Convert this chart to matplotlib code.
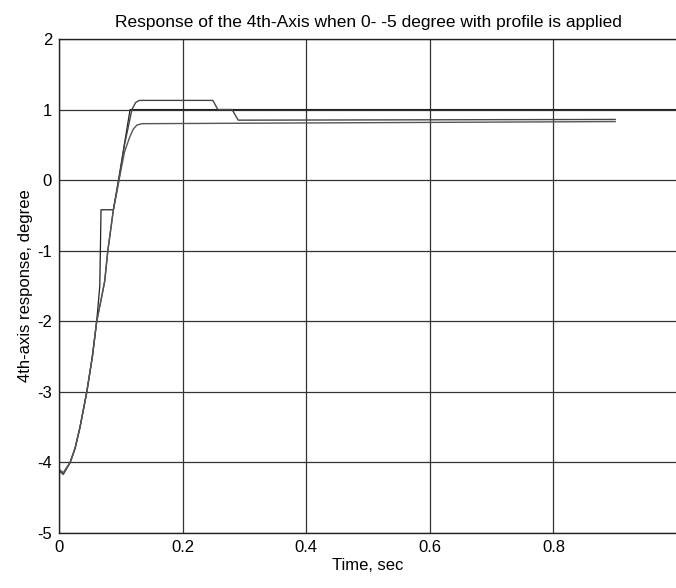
import matplotlib
matplotlib.use("Agg")
import matplotlib.pyplot as plt

plt.rcParams['font.family'] = ['Liberation Sans', 'DejaVu Sans']
plt.rcParams['axes.unicode_minus'] = False

# response with overshoot and two step-downs
t_a = [0, 0.007, 0.018, 0.026, 0.034, 0.045, 0.054, 0.061, 0.068, 0.074, 0.079,
       0.088, 0.097, 0.106, 0.118, 0.124, 0.13, 0.249, 0.257, 0.28, 0.29, 0.9]
y_a = [-4.12, -4.17, -4.0, -3.8, -3.5, -3.0, -2.5, -2.0, -1.7, -1.43, -1.0,
       -0.42, 0.0, 0.5, 1.0, 1.1, 1.13, 1.13, 1.0, 1.0, 0.85, 0.86]

# response settling low
t_b = [0, 0.007, 0.018, 0.026, 0.034, 0.045, 0.054, 0.061, 0.068, 0.074, 0.079,
       0.088, 0.097, 0.106, 0.114, 0.12, 0.126, 0.134, 0.9]
y_b = [-4.1, -4.15, -4.0, -3.8, -3.5, -3.0, -2.5, -2.0, -1.7, -1.43, -1.0,
       -0.42, 0.0, 0.4, 0.6, 0.72, 0.78, 0.80, 0.83]

# commanded profile
t_ref = [0, 0.007, 0.018, 0.026, 0.034, 0.045, 0.054, 0.061, 0.066, 0.068, 0.088,
         0.1, 0.115, 1.0]
y_ref = [-4.1, -4.15, -4.0, -3.8, -3.5, -3.0, -2.5, -2.0, -1.5, -0.42, -0.42,
         0.2, 1.0, 1.0]

fig = plt.figure(figsize=(6.76, 5.88), dpi=100)
ax = fig.add_axes([59 / 676, 55 / 588, 618 / 676, 494 / 588])

ax.plot(t_ref, y_ref, color='#222222', lw=0.9)
ax.plot(t_a, y_a, color='#444444', lw=1.0)
ax.plot(t_b, y_b, color='#555555', lw=1.0)

ax.set_xlim(0, 1)
ax.set_ylim(-5, 2)
ax.set_xticks([0, 0.2, 0.4, 0.6, 0.8, 1.0])
ax.set_xticklabels(['0', '0.2', '0.4', '0.6', '0.8', ''])
ax.set_yticks(range(-5, 3))
ax.grid(True, color='#333333', lw=0.9, ls='-')
ax.tick_params(direction='in', length=0, labelsize=12, pad=5)
for s in ax.spines.values():
    s.set_color('#222222')
    s.set_linewidth(1.0)

ax.set_title('Response of the 4th-Axis when 0- -5 degree with profile is applied',
             fontsize=12.5, pad=9)
ax.set_xlabel('Time, sec', fontsize=12, labelpad=2)
ax.set_ylabel('4th-axis response, degree', fontsize=12, labelpad=3)

fig.savefig('out.png', dpi=100)
